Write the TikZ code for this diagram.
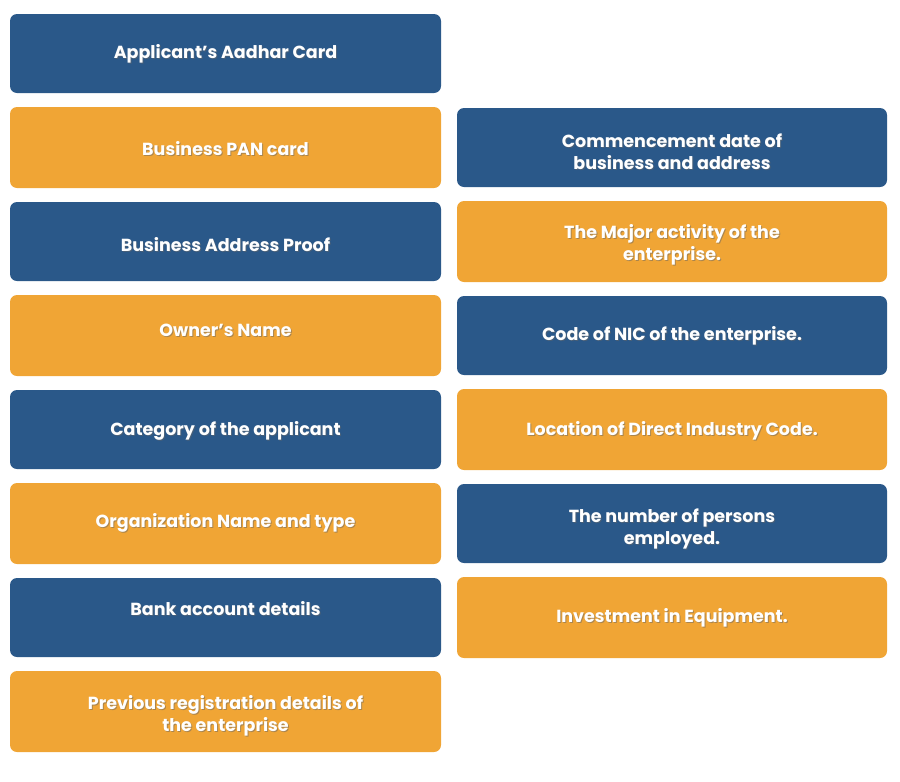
\documentclass[tikz,border=0pt]{standalone}
\usepackage{fontspec}
\setmainfont{Poppins}
\definecolor{bl}{HTML}{2A5889}
\definecolor{or}{HTML}{F0A535}
\tikzset{box/.style={rounded corners=7pt,draw=none},
 lbl/.style={text=white,font=\bfseries\fontsize{17.5}{22}\selectfont,align=center,inner sep=0pt}}
\begin{document}
\begin{tikzpicture}[x=1pt,y=-1pt]
\useasboundingbox (0,0) rectangle (900,782);
\newcommand\bx[7]{% name x1 y1 x2 y2 color textcentery text
 \fill[box,#6] (#2,#3) rectangle (#4,#5);}
\def\L#1#2#3#4#5#6{\fill[box,#4] (10,#2) rectangle (441,#3);
 \node[lbl,text=black!60,opacity=.5] at (225.5+1,#5+1) {#6};
 \node[lbl] (#1) at (225.5,#5) {#6};}
\def\R#1#2#3#4#5#6{\fill[box,#4] (457,#2) rectangle (887,#3);
 \node[lbl,text=black!60,opacity=.5] at (672+1,#5+1) {#6};
 \node[lbl] (#1) at (672,#5) {#6};}
\L{l1}{14}{93}{bl}{54}{Applicant's Aadhar Card}
\L{l2}{107}{188}{or}{149}{Business PAN card}
\L{l3}{202}{281}{bl}{245}{Business Address Proof}
\L{l4}{295}{376}{or}{330}{Owner's Name}
\L{l5}{390}{469}{bl}{431}{Category of the applicant}
\L{l6}{483}{564}{or}{523}{Organization Name and type}
\L{l7}{578}{657}{bl}{609}{Bank account details}
\L{l8}{671}{752}{or}{716}{Previous registration details of\\the enterprise}
\R{r1}{108}{187}{bl}{152}{Commencement date of\\business and address}
\R{r2}{201}{282}{or}{245}{The Major activity of the\\enterprise.}
\R{r3}{296}{375}{bl}{336}{Code of NIC of the enterprise.}
\R{r4}{389}{470}{or}{431}{Location of Direct Industry Code.}
\R{r5}{484}{563}{bl}{529}{The number of persons\\employed.}
\R{r6}{577}{658}{or}{618}{Investment in Equipment.}
\end{tikzpicture}
\end{document}
